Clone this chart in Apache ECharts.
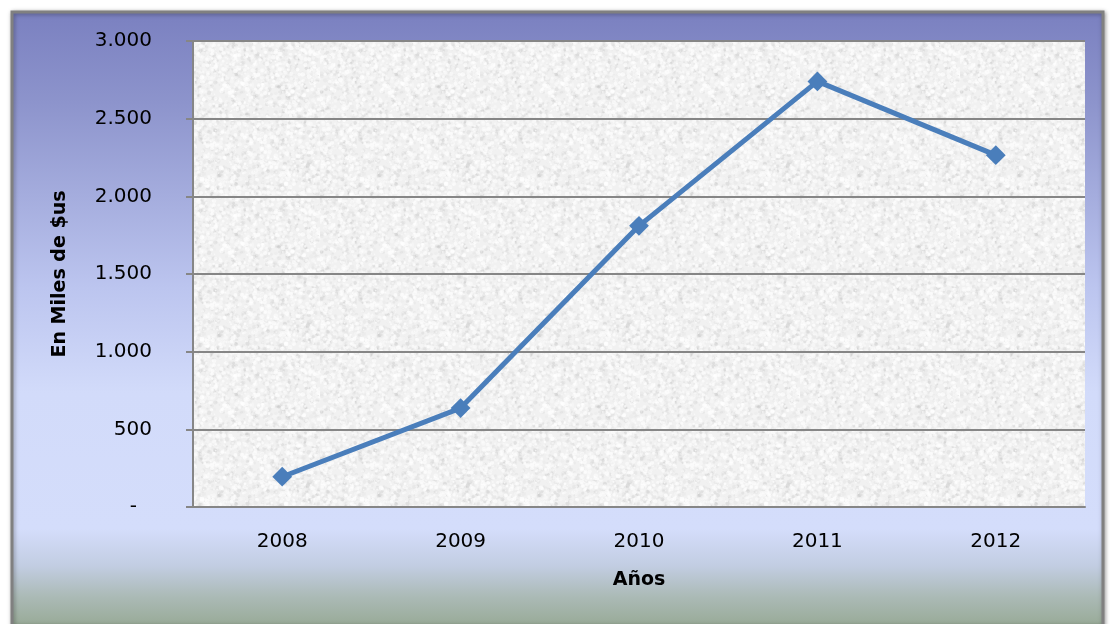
<!DOCTYPE html>
<html>
<head>
<meta charset="utf-8">
<script src="https://cdn.jsdelivr.net/npm/echarts@6/dist/echarts.min.js"></script>
<style>html,body{margin:0;padding:0;background:#fff}#c{width:1110px;height:624px}</style>
</head>
<body>
<div id="c"></div>
<script>
const categories = ['2008', '2009', '2010', '2011', '2012'];
const values = [195, 637, 1810, 2740, 2265];
const yTicks = [0, 500, 1000, 1500, 2000, 2500, 3000];
const yAxisTitle = 'En Miles de $us';
const xAxisTitle = 'Años';

function fmt(v) {
  if (v === 0) return '{z|-}';
  return String(v).replace(/\B(?=(\d{3})+(?!\d))/g, '.');
}

// decorative granite texture for the plot area (deterministic, not data)
function makeTexture() {
  const size = 160;
  const cv = document.createElement('canvas');
  cv.width = size; cv.height = size;
  const ctx = cv.getContext('2d');
  ctx.fillStyle = '#f1f1f1';
  ctx.fillRect(0, 0, size, size);
  let s = 98765;
  const rnd = () => { s = (s * 1103515245 + 12345) & 0x7fffffff; return s / 0x7fffffff; };
  for (let i = 0; i < 1800; i++) {
    const x = rnd() * size, y = rnd() * size, r = 0.7 + rnd() * 1.6;
    const g = 170 + Math.floor(rnd() * 50);
    ctx.fillStyle = 'rgba(' + g + ',' + g + ',' + g + ',' + (0.08 + rnd() * 0.18).toFixed(2) + ')';
    ctx.beginPath(); ctx.arc(x, y, r, 0, Math.PI * 2); ctx.fill();
  }
  for (let i = 0; i < 2200; i++) {
    const x = rnd() * size, y = rnd() * size, r = 0.6 + rnd() * 1.8;
    ctx.fillStyle = 'rgba(255,255,255,' + (0.25 + rnd() * 0.45).toFixed(2) + ')';
    ctx.beginPath(); ctx.arc(x, y, r, 0, Math.PI * 2); ctx.fill();
  }
  return cv;
}

const chart = echarts.init(document.getElementById('c'), null, {renderer: 'canvas'});
chart.setOption({
  animation: false,
  backgroundColor: '#ffffff',
  textStyle: {fontFamily: 'DejaVu Sans'},
  graphic: [
    {
      type: 'rect', z: -100, silent: true,
      shape: {x: 12, y: 12, width: 1091, height: 614},
      style: {
        fill: new echarts.graphic.LinearGradient(0, 0, 0, 1, [
          {offset: 0, color: '#7a80c0'},
          {offset: 0.15, color: '#8d94cc'},
          {offset: 0.45, color: '#bcc5ef'},
          {offset: 0.62, color: '#d2dbfa'},
          {offset: 0.84, color: '#d4ddfb'},
          {offset: 0.90, color: '#c2cde2'},
          {offset: 0.95, color: '#abbab6'},
          {offset: 1, color: '#97a995'}
        ]),
        stroke: '#808080', lineWidth: 3,
        shadowColor: 'rgba(0,0,0,0.35)', shadowBlur: 4, shadowOffsetX: 1, shadowOffsetY: 1
      }
    }
  ],
  grid: {
    left: 193, right: 25, top: 41, bottom: 117,
    show: true,
    backgroundColor: {image: makeTexture(), repeat: 'repeat'},
    borderWidth: 0
  },
  xAxis: {
    type: 'category',
    data: categories,
    boundaryGap: true,
    name: xAxisTitle,
    nameLocation: 'middle',
    nameGap: 64,
    nameTextStyle: {fontFamily: 'DejaVu Sans', fontWeight: 'bold', fontSize: 19, color: '#000'},
    axisLine: {show: true, lineStyle: {color: '#868686', width: 2}},
    axisTick: {show: false},
    splitLine: {show: false},
    axisLabel: {fontFamily: 'DejaVu Sans', fontSize: 20, color: '#000', margin: 25}
  },
  yAxis: {
    type: 'value',
    min: yTicks[0], max: yTicks[yTicks.length - 1], interval: 500,
    name: yAxisTitle,
    nameLocation: 'middle',
    nameGap: 123,
    nameTextStyle: {fontFamily: 'DejaVu Sans', fontWeight: 'bold', fontSize: 19, color: '#000'},
    axisLine: {show: true, lineStyle: {color: '#868686', width: 2}},
    axisTick: {show: true, length: 7, lineStyle: {color: '#868686', width: 2}},
    splitLine: {show: true, lineStyle: {color: '#868686', width: 2}},
    axisLabel: {
      fontFamily: 'DejaVu Sans', fontSize: 20, color: '#000', margin: 41,
      formatter: fmt,
      rich: {z: {fontFamily: 'DejaVu Sans', fontSize: 20, color: '#000', padding: [0, 15, 0, 0]}}
    }
  },
  series: [{
    type: 'line',
    data: values,
    lineStyle: {color: '#4a7ebb', width: 5},
    itemStyle: {color: '#4a7ebb'},
    symbol: 'rect',
    symbolSize: 14,
    symbolRotate: 45,
    showAllSymbol: true
  }]
});
</script>
</body>
</html>
